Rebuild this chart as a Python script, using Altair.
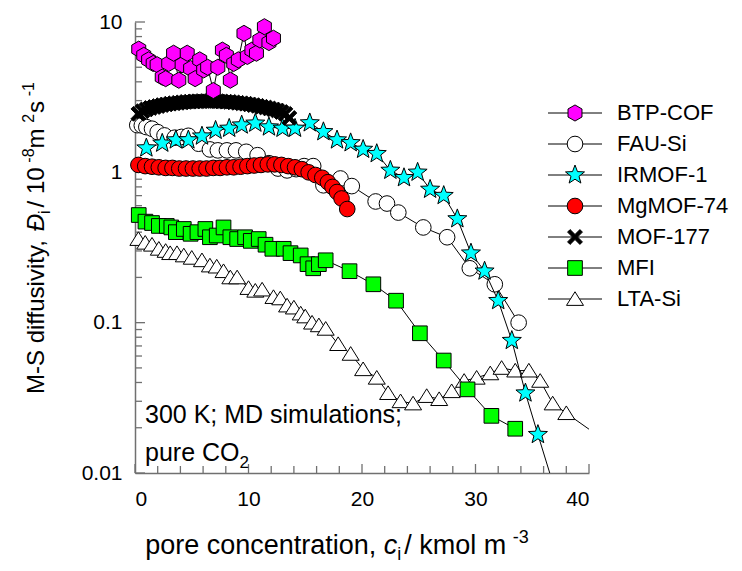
import altair as alt
import pandas as pd

# ------------------------------------------------------------------ data
names = ["BTP-COF", "FAU-Si", "IRMOF-1", "MgMOF-74", "MOF-177", "MFI", "LTA-Si"]

btp_c = [0.33, 0.77, 1.2, 1.6, 1.95, 2.4, 2.7, 2.97, 3.4, 3.86, 4.15, 4.6, 4.9, 5.3, 5.7, 6.05,
         6.4, 6.9, 7.3, 7.7, 8.05, 8.4, 8.7, 9.1, 9.6, 9.9, 10.3, 10.7, 11.0, 11.4, 11.8, 12.2]
btp_D = [6.6, 6.0, 5.6, 5.3, 5.2, 4.3, 4.2, 5.3, 6.2, 4.1, 5.2, 6.2, 4.9, 4.2, 5.6, 4.8,
         5.0, 3.5, 5.0, 6.5, 6.0, 4.1, 5.3, 5.6, 8.4, 5.9, 6.5, 6.2, 7.6, 9.3, 7.3, 7.8]

fau_c = [0.2, 0.6, 1.0, 1.5, 2.0, 2.6, 3.5, 4.1, 4.7, 5.6, 6.6, 7.3, 8.1, 8.9, 9.8, 10.8, 11.8,
         12.6, 13.4, 14.2, 14.9, 15.7, 16.6, 18.1, 19.1, 21.2, 22.2, 23.2, 25.4, 27.5, 29.5, 31.7, 33.8]
fau_D = [2.06, 2.05, 2.0, 1.95, 1.85, 1.76, 1.7, 1.72, 1.75, 1.55, 1.42, 1.4, 1.4, 1.4, 1.37, 1.3, 1.15,
         1.06, 1.03, 1.05, 1.1, 1.1, 0.82, 0.91, 0.81, 0.64, 0.62, 0.54, 0.43, 0.37, 0.23, 0.18, 0.10]

irmof_c = [1.0, 2.4, 3.6, 4.7, 5.9, 7.1, 8.3, 9.4, 10.6, 11.8, 13.0, 14.1, 15.4, 16.6, 17.8, 19.0,
           20.1, 21.3, 22.5, 23.7, 24.9, 26.0, 27.2, 28.4, 29.6, 30.8, 32.0, 33.2, 34.4, 35.5]
irmof_D = [1.45, 1.56, 1.64, 1.64, 1.74, 1.9, 1.96, 2.06, 2.12, 2.0, 1.96, 1.96, 2.13, 1.86, 1.64, 1.57,
           1.42, 1.33, 1.03, 0.92, 1.0, 0.77, 0.7, 0.49, 0.29, 0.22, 0.14, 0.076, 0.034, 0.018]

mg_c = [0.3, 0.9, 1.5, 2.1, 2.7, 3.3, 3.9, 4.5, 5.1, 5.7, 6.3, 6.9, 7.5, 8.1, 8.7, 9.3, 9.9, 10.5,
        11.1, 11.7, 12.3, 12.9, 13.5, 14.1, 14.7, 15.3, 15.9, 16.5, 17.0, 17.4, 17.8, 18.2, 18.7]
mg_D = [1.12, 1.1, 1.09, 1.08, 1.07, 1.07, 1.06, 1.06, 1.06, 1.06, 1.06, 1.07, 1.07, 1.08, 1.08, 1.09,
        1.1, 1.11, 1.12, 1.13, 1.13, 1.12, 1.1, 1.08, 1.05, 1.0, 0.96, 0.92, 0.86, 0.8, 0.74, 0.67, 0.57]

mof177_c = [0.3, 0.65, 1.0, 1.35, 1.7, 2.05, 2.4, 2.75, 3.1, 3.45, 3.8, 4.15, 4.5, 4.85, 5.2, 5.55,
            5.9, 6.25, 6.6, 6.95, 7.3, 7.65, 8.0, 8.35, 8.7, 9.05, 9.4, 9.75, 10.1, 10.45, 10.8,
            11.15, 11.5, 11.85, 12.2, 12.55, 12.9, 13.25, 13.6]
mof177_D = [2.45, 2.55, 2.62, 2.68, 2.72, 2.76, 2.8, 2.83, 2.86, 2.88, 2.9, 2.92, 2.94, 2.95, 2.96, 2.97,
            2.98, 2.98, 2.98, 2.98, 2.97, 2.96, 2.95, 2.94, 2.92, 2.9, 2.88, 2.86, 2.83, 2.8, 2.77,
            2.73, 2.7, 2.66, 2.62, 2.58, 2.52, 2.45, 2.3]

mfi_c = [0.33, 0.92, 1.5, 2.1, 2.8, 3.2, 3.6, 4.3, 4.9, 5.5, 6.2, 6.6, 7.2, 7.8, 8.4, 9.0, 9.7, 10.2,
         10.9, 11.5, 12.1, 13.1, 13.7, 14.6, 15.2, 15.7, 16.2, 16.8, 18.9, 21.0, 23.0, 25.1, 27.2,
         29.3, 31.4, 33.5]
mfi_D = [0.52, 0.47, 0.46, 0.44, 0.44, 0.43, 0.40, 0.42, 0.39, 0.40, 0.42, 0.37, 0.38, 0.43, 0.37, 0.36,
         0.37, 0.35, 0.36, 0.33, 0.31, 0.31, 0.29, 0.28, 0.245, 0.23, 0.245, 0.26, 0.22, 0.18, 0.14,
         0.085, 0.056, 0.036, 0.024, 0.0197]

lta_c = [0.3, 0.9, 1.5, 2.1, 2.7, 3.1, 3.7, 4.3, 5.0, 5.9, 6.6, 7.2, 7.8, 8.4, 9.0, 10.0, 10.6, 11.2,
         12.2, 12.8, 13.4, 14.0, 14.6, 15.0, 15.6, 16.2, 16.8, 17.9, 19.0, 20.1, 21.3, 22.3, 23.4,
         24.5, 25.7, 26.8, 27.9, 29.0, 30.1, 31.3, 32.3, 33.5, 34.7, 35.7, 36.8, 38.0]
lta_D = [0.36, 0.34, 0.33, 0.31, 0.30, 0.29, 0.29, 0.28, 0.27, 0.26, 0.24, 0.236, 0.22, 0.2, 0.2, 0.17,
         0.163, 0.166, 0.148, 0.145, 0.13, 0.126, 0.115, 0.11, 0.1, 0.096, 0.091, 0.072, 0.062, 0.049,
         0.043, 0.034, 0.030, 0.029, 0.0325, 0.031, 0.035, 0.041, 0.043, 0.046, 0.05, 0.048, 0.048,
         0.041, 0.029, 0.025]

# continuation of the connecting lines beyond the axes (off-chart points)
irmof_tail_c = [37.6]
irmof_tail_D = [0.0055]
lta_tail_c = [42.0]
lta_tail_D = [0.0153]

x_major = [0, 10, 20, 30, 40]
x_minor = [2, 4, 6, 8, 12, 14, 16, 18, 22, 24, 26, 28, 32, 34, 36, 38]
y_major = [0.01, 0.1, 1, 10]
y_minor = [0.02, 0.03, 0.04, 0.05, 0.06, 0.07, 0.08, 0.09,
           0.2, 0.3, 0.4, 0.5, 0.6, 0.7, 0.8, 0.9,
           2, 3, 4, 5, 6, 7, 8, 9]

# ------------------------------------------------------------------ layout / style
LEFT, TOP = 135, 22
W, H = 454, 451
FONT = "Liberation Sans"
AXIS_GREY = "#707070"

HEX = "M0,-1L0.866,-0.5L0.866,0.5L0,1L-0.866,0.5L-0.866,-0.5Z"
STAR = ("M0,-1L0.247,-0.34L0.951,-0.309L0.399,0.13L0.588,0.809L0,0.42L-0.588,0.809"
        "L-0.399,0.13L-0.951,-0.309L-0.247,-0.34Z")
SQUARE = "M-1,-1L1,-1L1,1L-1,1Z"
TRI = "M0,-0.85L1,0.75L-1,0.75Z"
XMARK = ("M0,-0.34L0.66,-1L1,-0.66L0.34,0L1,0.66L0.66,1L0,0.34L-0.66,1L-1,0.66"
         "L-0.34,0L-1,-0.66L-0.66,-1Z")

style = {
    "BTP-COF": (HEX, "#FF00FF", 260),
    "FAU-Si": ("circle", "#FFFFFF", 245),
    "IRMOF-1": (STAR, "#00FFFF", 400),
    "MgMOF-74": ("circle", "#FF0000", 245),
    "MOF-177": (XMARK, "#000000", 220),
    "MFI": (SQUARE, "#00FF00", 215),
    "LTA-Si": (TRI, "#FFFFFF", 290),
}

series_data = {
    "BTP-COF": (btp_c, btp_D, [], []),
    "FAU-Si": (fau_c, fau_D, [], []),
    "IRMOF-1": (irmof_c, irmof_D, irmof_tail_c, irmof_tail_D),
    "MgMOF-74": (mg_c, mg_D, [], []),
    "MOF-177": (mof177_c, mof177_D, [], []),
    "MFI": (mfi_c, mfi_D, [], []),
    "LTA-Si": (lta_c, lta_D, lta_tail_c, lta_tail_D),
}

xs = alt.Scale(domain=[0, 40], nice=False, zero=False)
ys = alt.Scale(type="log", domain=[0.01, 10], nice=False)

# Arial / Liberation Sans advance widths (1/1000 em)
CW = {" ": 278, ",": 278, "-": 333, "/": 278, ".": 278, ";": 278,
      "a": 556, "c": 500, "d": 556, "e": 556, "f": 278, "i": 222, "k": 500, "l": 222,
      "m": 833, "n": 556, "o": 556, "p": 556, "r": 333, "s": 500, "t": 278, "u": 556,
      "v": 500, "y": 500, "M": 833, "S": 667, "D": 722, "C": 722, "O": 778, "K": 667,
      "\u0110": 722}


def tw(s, size):
    return sum(CW.get(ch, 556) for ch in s) * size / 1000.0


ONE = alt.Data(values=[{"a": 1}])


def text_piece(txt, x, y, size, italic=False, angle=0, align="left", baseline="alphabetic"):
    kw = dict(text=txt, font=FONT, fontSize=size, align=align, baseline=baseline, color="black")
    if italic:
        kw["fontStyle"] = "italic"
    if angle:
        kw["angle"] = angle
    return alt.Chart(ONE).mark_text(**kw).encode(x=alt.value(x - LEFT), y=alt.value(y - TOP))


layers = []

# axes (labels + domain) carried by an invisible layer
base_df = pd.DataFrame({"c": [0, 40], "D": [0.01, 10]})
layers.append(
    alt.Chart(base_df).mark_point(opacity=0).encode(
        x=alt.X("c:Q", scale=xs, axis=alt.Axis(values=x_major, format="d", title=None, grid=False,
                                                ticks=False, tickSize=0, labelPadding=15,
                                                labelFont=FONT, labelFontSize=21, labelColor="black",
                                                domainColor=AXIS_GREY, domainWidth=1.5)),
        y=alt.Y("D:Q", scale=ys, axis=alt.Axis(values=y_major, format="~g", title=None, grid=False,
                                                ticks=False, tickSize=0, labelPadding=13,
                                                labelFont=FONT, labelFontSize=21, labelColor="black",
                                                domainColor=AXIS_GREY, domainWidth=1.5)),
    )
)

# inward ticks
layers.append(alt.Chart(pd.DataFrame({"v": x_major})).mark_rule(color=AXIS_GREY, strokeWidth=1.3).encode(
    x=alt.X("v:Q", scale=xs), y=alt.value(H), y2=alt.value(H - 9)))
layers.append(alt.Chart(pd.DataFrame({"v": x_minor})).mark_rule(color=AXIS_GREY, strokeWidth=1.3).encode(
    x=alt.X("v:Q", scale=xs), y=alt.value(H), y2=alt.value(H - 7)))
layers.append(alt.Chart(pd.DataFrame({"v": y_major})).mark_rule(color=AXIS_GREY, strokeWidth=1.3).encode(
    y=alt.Y("v:Q", scale=ys), x=alt.value(0), x2=alt.value(10)))
layers.append(alt.Chart(pd.DataFrame({"v": y_minor})).mark_rule(color=AXIS_GREY, strokeWidth=1.3).encode(
    y=alt.Y("v:Q", scale=ys), x=alt.value(0), x2=alt.value(7)))

# data series (z-order chosen to match the reference)
draw_order = ["LTA-Si", "MFI", "FAU-Si", "MgMOF-74", "IRMOF-1", "MOF-177", "BTP-COF"]
for name in draw_order:
    cs, Ds, tc, tD = series_data[name]
    shape, fill, size = style[name]
    line_df = pd.DataFrame({"c": cs + tc, "D": Ds + tD, "k": list(range(len(cs) + len(tc)))})
    pt_df = pd.DataFrame({"c": cs, "D": Ds})
    layers.append(alt.Chart(line_df).mark_line(color="black", strokeWidth=1, clip=True).encode(
        x=alt.X("c:Q", scale=xs), y=alt.Y("D:Q", scale=ys), order="k:Q"))
    layers.append(alt.Chart(pt_df).mark_point(shape=shape, size=size, filled=True, color=fill,
                                              stroke="black", strokeWidth=1, opacity=1).encode(
        x=alt.X("c:Q", scale=xs), y=alt.Y("D:Q", scale=ys)))

# legend (manual: line through symbol, then label)
LEG_Y0, LEG_DY = 113, 31
LEG_X1, LEG_X2, LEG_SYM, LEG_TXT = 548, 602, 575, 617
for i, name in enumerate(names):
    yy = LEG_Y0 + LEG_DY * i - TOP
    shape, fill, size = style[name]
    layers.append(alt.Chart(ONE).mark_rule(color="black", strokeWidth=1).encode(
        x=alt.value(LEG_X1 - LEFT), x2=alt.value(LEG_X2 - LEFT), y=alt.value(yy)))
    layers.append(alt.Chart(ONE).mark_point(shape=shape, size=size, filled=True, color=fill,
                                            stroke="black", strokeWidth=1, opacity=1).encode(
        x=alt.value(LEG_SYM - LEFT), y=alt.value(yy)))
    layers.append(alt.Chart(ONE).mark_text(text=name, font=FONT, fontSize=22, align="left",
                                           baseline="middle", color="black").encode(
        x=alt.value(LEG_TXT - LEFT), y=alt.value(yy)))

# annotation
AN = 25
layers.append(text_piece("300 K; MD simulations;", 145, 423, AN))
layers.append(text_piece("pure CO", 145, 461, AN))
layers.append(text_piece("2", 145 + tw("pure CO", AN), 468, 17))

# x-axis title with italic symbol, subscript and superscript
# (text, size, italic, baseline shift, extra advance after the piece)
FX, FXS = 27, 18
xt_pieces = [("pore concentration, ", FX, False, 0, 0), ("c", FX, True, 0, 0),
             ("i", FXS, False, 6, 3), (" / kmol m", FX, False, 0, -1), ("-3", FXS, False, -11, 0)]
total = sum(tw(t, s) + e for t, s, _, _, e in xt_pieces)
xpos = 337 - total / 2
XT_BASE = 554
for t, s, it, dy, extra in xt_pieces:
    layers.append(text_piece(t, xpos, XT_BASE + dy, s, italic=it))
    xpos += tw(t, s) + extra

# y-axis title (rotated, reads bottom to top)
FY, FYS = 24, 16
yt_pieces = [("M-S diffusivity, ", FY, False, 0, 0), ("\u0110", FY, True, 0, 0),
             ("i", FYS, False, 6, 3), (" / 10", FY, False, 0, -2), ("-8", FYS, False, -10, 0),
             (" m", FY, False, 0, -1), ("2", FYS, False, -10, 1), (" s", FY, False, 0, -2),
             ("-1", FYS, False, -10, 0)]
total = sum(tw(t, s) + e for t, s, _, _, e in yt_pieces)
ypos = 238 + total / 2
YT_BASE = 44
for t, s, it, dy, extra in yt_pieces:
    layers.append(text_piece(t, YT_BASE + dy, ypos, s, italic=it, angle=270))
    ypos -= tw(t, s) + extra

chart = alt.layer(*layers).properties(
    width=W, height=H,
    autosize=alt.AutoSizeParams(type="none"),
    padding={"left": LEFT, "top": TOP, "right": 742 - LEFT - W, "bottom": 571 - TOP - H},
    background="white",
).configure_view(stroke=None)

chart.save("out.html", embed_options={"renderer": "svg", "actions": False})
